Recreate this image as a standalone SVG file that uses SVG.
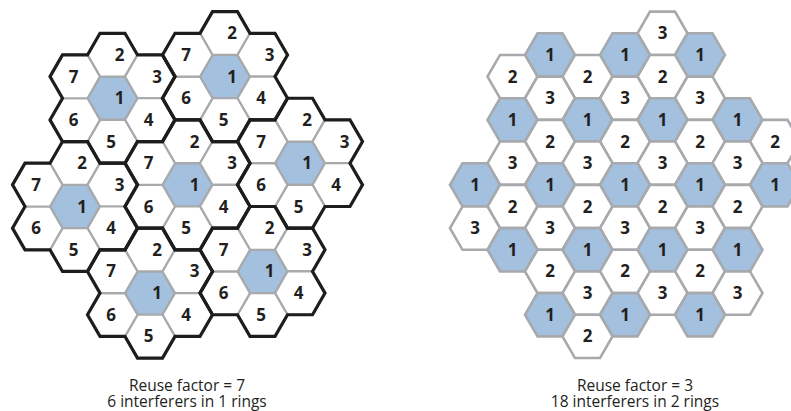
<svg xmlns="http://www.w3.org/2000/svg" xmlns:xlink="http://www.w3.org/1999/xlink" width="791" height="411" viewBox="0 0 791 411">
<style>
.lw{fill:#fff;stroke:#a7a9ac;stroke-width:2.2}
.lb{fill:#a3c0de;stroke:#a7a9ac;stroke-width:2.2}
.rw{fill:#fff;stroke:#a7a9ac;stroke-width:2.6}
.rb{fill:#a3c0de;stroke:#a7a9ac;stroke-width:2.6}
.edge{fill:none;stroke:#1d1d1b;stroke-width:3.2;stroke-linejoin:miter}
text{font-family:"Open Sans","Noto Sans","Liberation Sans",sans-serif;fill:#231f20}
.n{font-size:17px;font-weight:bold;text-anchor:middle}
.cap{font-size:15.5px;text-anchor:middle}
</style>
<defs>
<polygon id="hex" points="25,0 12.5,21.65 -12.5,21.65 -25,0 -12.5,-21.65 12.5,-21.65"/>
<path id="flower" d="M-12.5,-64.95 L12.5,-64.95 L25,-43.3 L50,-43.3 L62.5,-21.65 L50,0 L62.5,21.65 L50,43.3 L25,43.3 L12.5,64.95 L-12.5,64.95 L-25,43.3 L-50,43.3 L-62.5,21.65 L-50,0 L-62.5,-21.65 L-50,-43.3 L-25,-43.3 Z"/>
</defs>

<!-- Left: reuse factor 7 -->
<g id="left-cells">
<g id="L-TL-1" transform="translate(112.5,98.25)"><use href="#hex" class="lb"/><text class="n" x="7" y="6">1</text></g>
<g id="L-TL-2" transform="translate(112.5,54.95)"><use href="#hex" class="lw"/><text class="n" x="7" y="6">2</text></g>
<g id="L-TL-3" transform="translate(150,76.6)"><use href="#hex" class="lw"/><text class="n" x="7" y="6">3</text></g>
<g id="L-TL-4" transform="translate(150,119.9)"><use href="#hex" class="lw"/><text class="n" x="-1.5" y="6">4</text></g>
<g id="L-TL-5" transform="translate(112.5,141.55)"><use href="#hex" class="lw"/><text class="n" x="-1.5" y="6">5</text></g>
<g id="L-TL-6" transform="translate(75,119.9)"><use href="#hex" class="lw"/><text class="n" x="-1.5" y="6">6</text></g>
<g id="L-TL-7" transform="translate(75,76.6)"><use href="#hex" class="lw"/><text class="n" x="-1.5" y="6">7</text></g>

<g id="L-T-1" transform="translate(225,76.6)"><use href="#hex" class="lb"/><text class="n" x="7" y="6">1</text></g>
<g id="L-T-2" transform="translate(225,33.3)"><use href="#hex" class="lw"/><text class="n" x="7" y="6">2</text></g>
<g id="L-T-3" transform="translate(262.5,54.95)"><use href="#hex" class="lw"/><text class="n" x="7" y="6">3</text></g>
<g id="L-T-4" transform="translate(262.5,98.25)"><use href="#hex" class="lw"/><text class="n" x="-1.5" y="6">4</text></g>
<g id="L-T-5" transform="translate(225,119.9)"><use href="#hex" class="lw"/><text class="n" x="-1.5" y="6">5</text></g>
<g id="L-T-6" transform="translate(187.5,98.25)"><use href="#hex" class="lw"/><text class="n" x="-1.5" y="6">6</text></g>
<g id="L-T-7" transform="translate(187.5,54.95)"><use href="#hex" class="lw"/><text class="n" x="-1.5" y="6">7</text></g>

<g id="L-C-1" transform="translate(187.5,184.85)"><use href="#hex" class="lb"/><text class="n" x="7" y="6">1</text></g>
<g id="L-C-2" transform="translate(187.5,141.55)"><use href="#hex" class="lw"/><text class="n" x="7" y="6">2</text></g>
<g id="L-C-3" transform="translate(225,163.2)"><use href="#hex" class="lw"/><text class="n" x="7" y="6">3</text></g>
<g id="L-C-4" transform="translate(225,206.5)"><use href="#hex" class="lw"/><text class="n" x="-1.5" y="6">4</text></g>
<g id="L-C-5" transform="translate(187.5,228.15)"><use href="#hex" class="lw"/><text class="n" x="-1.5" y="6">5</text></g>
<g id="L-C-6" transform="translate(150,206.5)"><use href="#hex" class="lw"/><text class="n" x="-1.5" y="6">6</text></g>
<g id="L-C-7" transform="translate(150,163.2)"><use href="#hex" class="lw"/><text class="n" x="-1.5" y="6">7</text></g>

<g id="L-R-1" transform="translate(300,163.2)"><use href="#hex" class="lb"/><text class="n" x="7" y="6">1</text></g>
<g id="L-R-2" transform="translate(300,119.9)"><use href="#hex" class="lw"/><text class="n" x="7" y="6">2</text></g>
<g id="L-R-3" transform="translate(337.5,141.55)"><use href="#hex" class="lw"/><text class="n" x="7" y="6">3</text></g>
<g id="L-R-4" transform="translate(337.5,184.85)"><use href="#hex" class="lw"/><text class="n" x="-1.5" y="6">4</text></g>
<g id="L-R-5" transform="translate(300,206.5)"><use href="#hex" class="lw"/><text class="n" x="-1.5" y="6">5</text></g>
<g id="L-R-6" transform="translate(262.5,184.85)"><use href="#hex" class="lw"/><text class="n" x="-1.5" y="6">6</text></g>
<g id="L-R-7" transform="translate(262.5,141.55)"><use href="#hex" class="lw"/><text class="n" x="-1.5" y="6">7</text></g>

<g id="L-L-1" transform="translate(75,206.5)"><use href="#hex" class="lb"/><text class="n" x="7" y="6">1</text></g>
<g id="L-L-2" transform="translate(75,163.2)"><use href="#hex" class="lw"/><text class="n" x="7" y="6">2</text></g>
<g id="L-L-3" transform="translate(112.5,184.85)"><use href="#hex" class="lw"/><text class="n" x="7" y="6">3</text></g>
<g id="L-L-4" transform="translate(112.5,228.15)"><use href="#hex" class="lw"/><text class="n" x="-1.5" y="6">4</text></g>
<g id="L-L-5" transform="translate(75,249.8)"><use href="#hex" class="lw"/><text class="n" x="-1.5" y="6">5</text></g>
<g id="L-L-6" transform="translate(37.5,228.15)"><use href="#hex" class="lw"/><text class="n" x="-1.5" y="6">6</text></g>
<g id="L-L-7" transform="translate(37.5,184.85)"><use href="#hex" class="lw"/><text class="n" x="-1.5" y="6">7</text></g>

<g id="L-BR-1" transform="translate(262.5,271.45)"><use href="#hex" class="lb"/><text class="n" x="7" y="6">1</text></g>
<g id="L-BR-2" transform="translate(262.5,228.15)"><use href="#hex" class="lw"/><text class="n" x="7" y="6">2</text></g>
<g id="L-BR-3" transform="translate(300,249.8)"><use href="#hex" class="lw"/><text class="n" x="7" y="6">3</text></g>
<g id="L-BR-4" transform="translate(300,293.1)"><use href="#hex" class="lw"/><text class="n" x="-1.5" y="6">4</text></g>
<g id="L-BR-5" transform="translate(262.5,314.75)"><use href="#hex" class="lw"/><text class="n" x="-1.5" y="6">5</text></g>
<g id="L-BR-6" transform="translate(225,293.1)"><use href="#hex" class="lw"/><text class="n" x="-1.5" y="6">6</text></g>
<g id="L-BR-7" transform="translate(225,249.8)"><use href="#hex" class="lw"/><text class="n" x="-1.5" y="6">7</text></g>

<g id="L-B-1" transform="translate(150,293.1)"><use href="#hex" class="lb"/><text class="n" x="7" y="6">1</text></g>
<g id="L-B-2" transform="translate(150,249.8)"><use href="#hex" class="lw"/><text class="n" x="7" y="6">2</text></g>
<g id="L-B-3" transform="translate(187.5,271.45)"><use href="#hex" class="lw"/><text class="n" x="7" y="6">3</text></g>
<g id="L-B-4" transform="translate(187.5,314.75)"><use href="#hex" class="lw"/><text class="n" x="-1.5" y="6">4</text></g>
<g id="L-B-5" transform="translate(150,336.4)"><use href="#hex" class="lw"/><text class="n" x="-1.5" y="6">5</text></g>
<g id="L-B-6" transform="translate(112.5,314.75)"><use href="#hex" class="lw"/><text class="n" x="-1.5" y="6">6</text></g>
<g id="L-B-7" transform="translate(112.5,271.45)"><use href="#hex" class="lw"/><text class="n" x="-1.5" y="6">7</text></g>
</g>

<g id="left-cluster-borders" class="edge">
<use href="#flower" transform="translate(112.5,98.25)"/>
<use href="#flower" transform="translate(225,76.6)"/>
<use href="#flower" transform="translate(187.5,184.85)"/>
<use href="#flower" transform="translate(300,163.2)"/>
<use href="#flower" transform="translate(75,206.5)"/>
<use href="#flower" transform="translate(262.5,271.45)"/>
<use href="#flower" transform="translate(150,293.1)"/>
</g>

<!-- Right: reuse factor 3 -->
<g id="right-cells">
<g id="R-0-5" transform="translate(662.5,33.3)"><use href="#hex" class="rw"/><text class="n" y="6">3</text></g>

<g id="R-1-2" transform="translate(550,54.95)"><use href="#hex" class="rb"/><text class="n" y="6">1</text></g>
<g id="R-1-4" transform="translate(625,54.95)"><use href="#hex" class="rb"/><text class="n" y="6">1</text></g>
<g id="R-1-6" transform="translate(700,54.95)"><use href="#hex" class="rb"/><text class="n" y="6">1</text></g>

<g id="R-2-1" transform="translate(512.5,76.6)"><use href="#hex" class="rw"/><text class="n" y="6">2</text></g>
<g id="R-2-3" transform="translate(587.5,76.6)"><use href="#hex" class="rw"/><text class="n" y="6">2</text></g>
<g id="R-2-5" transform="translate(662.5,76.6)"><use href="#hex" class="rw"/><text class="n" y="6">2</text></g>

<g id="R-3-2" transform="translate(550,98.25)"><use href="#hex" class="rw"/><text class="n" y="6">3</text></g>
<g id="R-3-4" transform="translate(625,98.25)"><use href="#hex" class="rw"/><text class="n" y="6">3</text></g>
<g id="R-3-6" transform="translate(700,98.25)"><use href="#hex" class="rw"/><text class="n" y="6">3</text></g>

<g id="R-4-1" transform="translate(512.5,119.9)"><use href="#hex" class="rb"/><text class="n" y="6">1</text></g>
<g id="R-4-3" transform="translate(587.5,119.9)"><use href="#hex" class="rb"/><text class="n" y="6">1</text></g>
<g id="R-4-5" transform="translate(662.5,119.9)"><use href="#hex" class="rb"/><text class="n" y="6">1</text></g>
<g id="R-4-7" transform="translate(737.5,119.9)"><use href="#hex" class="rb"/><text class="n" y="6">1</text></g>

<g id="R-5-2" transform="translate(550,141.55)"><use href="#hex" class="rw"/><text class="n" y="6">2</text></g>
<g id="R-5-4" transform="translate(625,141.55)"><use href="#hex" class="rw"/><text class="n" y="6">2</text></g>
<g id="R-5-6" transform="translate(700,141.55)"><use href="#hex" class="rw"/><text class="n" y="6">2</text></g>
<g id="R-5-8" transform="translate(775,141.55)"><use href="#hex" class="rw"/><text class="n" y="6">2</text></g>

<g id="R-6-1" transform="translate(512.5,163.2)"><use href="#hex" class="rw"/><text class="n" y="6">3</text></g>
<g id="R-6-3" transform="translate(587.5,163.2)"><use href="#hex" class="rw"/><text class="n" y="6">3</text></g>
<g id="R-6-5" transform="translate(662.5,163.2)"><use href="#hex" class="rw"/><text class="n" y="6">3</text></g>
<g id="R-6-7" transform="translate(737.5,163.2)"><use href="#hex" class="rw"/><text class="n" y="6">3</text></g>

<g id="R-7-0" transform="translate(475,184.85)"><use href="#hex" class="rb"/><text class="n" y="6">1</text></g>
<g id="R-7-2" transform="translate(550,184.85)"><use href="#hex" class="rb"/><text class="n" y="6">1</text></g>
<g id="R-7-4" transform="translate(625,184.85)"><use href="#hex" class="rb"/><text class="n" y="6">1</text></g>
<g id="R-7-6" transform="translate(700,184.85)"><use href="#hex" class="rb"/><text class="n" y="6">1</text></g>
<g id="R-7-8" transform="translate(775,184.85)"><use href="#hex" class="rb"/><text class="n" y="6">1</text></g>

<g id="R-8-1" transform="translate(512.5,206.5)"><use href="#hex" class="rw"/><text class="n" y="6">2</text></g>
<g id="R-8-3" transform="translate(587.5,206.5)"><use href="#hex" class="rw"/><text class="n" y="6">2</text></g>
<g id="R-8-5" transform="translate(662.5,206.5)"><use href="#hex" class="rw"/><text class="n" y="6">2</text></g>
<g id="R-8-7" transform="translate(737.5,206.5)"><use href="#hex" class="rw"/><text class="n" y="6">2</text></g>

<g id="R-9-0" transform="translate(475,228.15)"><use href="#hex" class="rw"/><text class="n" y="6">3</text></g>
<g id="R-9-2" transform="translate(550,228.15)"><use href="#hex" class="rw"/><text class="n" y="6">3</text></g>
<g id="R-9-4" transform="translate(625,228.15)"><use href="#hex" class="rw"/><text class="n" y="6">3</text></g>
<g id="R-9-6" transform="translate(700,228.15)"><use href="#hex" class="rw"/><text class="n" y="6">3</text></g>

<g id="R-10-1" transform="translate(512.5,249.8)"><use href="#hex" class="rb"/><text class="n" y="6">1</text></g>
<g id="R-10-3" transform="translate(587.5,249.8)"><use href="#hex" class="rb"/><text class="n" y="6">1</text></g>
<g id="R-10-5" transform="translate(662.5,249.8)"><use href="#hex" class="rb"/><text class="n" y="6">1</text></g>
<g id="R-10-7" transform="translate(737.5,249.8)"><use href="#hex" class="rb"/><text class="n" y="6">1</text></g>

<g id="R-11-2" transform="translate(550,271.45)"><use href="#hex" class="rw"/><text class="n" y="6">2</text></g>
<g id="R-11-4" transform="translate(625,271.45)"><use href="#hex" class="rw"/><text class="n" y="6">2</text></g>
<g id="R-11-6" transform="translate(700,271.45)"><use href="#hex" class="rw"/><text class="n" y="6">2</text></g>

<g id="R-12-3" transform="translate(587.5,293.1)"><use href="#hex" class="rw"/><text class="n" y="6">3</text></g>
<g id="R-12-5" transform="translate(662.5,293.1)"><use href="#hex" class="rw"/><text class="n" y="6">3</text></g>
<g id="R-12-7" transform="translate(737.5,293.1)"><use href="#hex" class="rw"/><text class="n" y="6">3</text></g>

<g id="R-13-2" transform="translate(550,314.75)"><use href="#hex" class="rb"/><text class="n" y="6">1</text></g>
<g id="R-13-4" transform="translate(625,314.75)"><use href="#hex" class="rb"/><text class="n" y="6">1</text></g>
<g id="R-13-6" transform="translate(700,314.75)"><use href="#hex" class="rb"/><text class="n" y="6">1</text></g>

<g id="R-14-3" transform="translate(587.5,336.4)"><use href="#hex" class="rw"/><text class="n" y="6">2</text></g>
</g>

<g id="captions">
<text class="cap"><tspan x="187" y="390.5">Reuse factor = 7</tspan><tspan x="187" dy="16">6 interferers in 1 rings</tspan></text>
<text class="cap"><tspan x="635" y="390.5">Reuse factor = 3</tspan><tspan x="635" dy="16">18 interferers in 2 rings</tspan></text>
</g>
</svg>
